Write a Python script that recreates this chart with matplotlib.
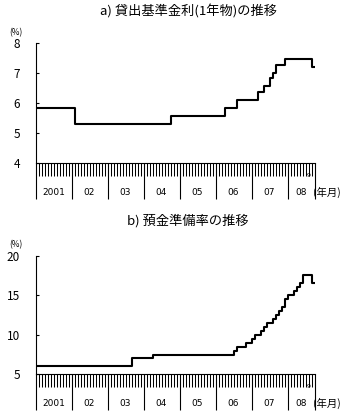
import matplotlib
matplotlib.use('Agg')
import matplotlib.pyplot as plt
import matplotlib.transforms as mtransforms
import numpy as np

plt.rcParams['font.family'] = ['Noto Sans CJK JP', 'DejaVu Sans']

# 改定月と水準
rate_months = ['2001-01', '2002-02', '2004-10', '2006-04', '2006-08', '2007-03',
               '2007-05', '2007-07', '2007-08', '2007-09', '2007-12', '2008-09']
rate_values = [5.85, 5.31, 5.58, 5.85, 6.12, 6.39, 6.57, 6.84, 7.02, 7.29, 7.47, 7.20]

rrr_months = ['2001-01', '2003-09', '2004-04', '2006-07', '2006-08', '2006-11',
              '2007-01', '2007-02', '2007-04', '2007-05', '2007-06', '2007-08',
              '2007-09', '2007-10', '2007-11', '2007-12', '2008-01', '2008-03',
              '2008-04', '2008-05', '2008-06', '2008-09']
rrr_values = [6.0, 7.0, 7.5, 8.0, 8.5, 9.0, 9.5, 10.0, 10.5, 11.0, 11.5, 12.0,
              12.5, 13.0, 13.5, 14.5, 15.0, 15.5, 16.0, 16.5, 17.5, 16.5]

year_labels = ['2001', '02', '03', '04', '05', '06', '07', '08']
last_month = '2008-09'


def month_index(s):
    y, m = s.split('-')
    return (int(y) - 2001) * 12 + int(m) - 1


n_months = month_index(last_month) + 1

W, H = 359, 419
fig = plt.figure(figsize=(W / 100, H / 100), dpi=100)


def panel(top_px, bottom_px, months, values, ylim, yticks, title, title_px):
    left = 35.5
    right = left + 3 * n_months
    ax = fig.add_axes([left / W, 1 - bottom_px / H, (right - left) / W, (bottom_px - top_px) / H])
    x = [month_index(m) for m in months] + [n_months]
    y = list(values) + [values[-1]]
    ax.step(x, y, where='post', color='black', lw=1.5)
    ax.set_xlim(0, n_months)
    ax.set_ylim(*ylim)
    ax.set_yticks(yticks)
    ax.tick_params(axis='y', direction='in', length=2.5, width=0.8, pad=11, labelsize=8.5)
    for s in ['top', 'right']:
        ax.spines[s].set_visible(False)
    ax.spines['left'].set_linewidth(0.8)
    ax.spines['bottom'].set_linewidth(0.8)
    # 月の目盛り
    ax.set_xticks(np.arange(0, n_months + 1, 12).tolist() + [n_months])
    ax.set_xticks(np.arange(0, n_months + 1), minor=True)
    ax.tick_params(axis='x', which='minor', direction='out', length=9.5, width=0.75)
    ax.tick_params(axis='x', which='major', direction='out', length=26, width=0.8, labelbottom=False)
    # 年ラベル
    trans = mtransforms.blended_transform_factory(ax.transData, fig.transFigure)
    for i, lab in enumerate(year_labels):
        cx = i * 12 + min(12, n_months - i * 12) / 2
        ax.text(cx, 1 - (bottom_px + 29) / H, lab, transform=trans, ha='center', va='center',
                fontsize=6.5, family='DejaVu Sans')
    fig.text(313 / W, 1 - (bottom_px + 29) / H, '(年月)', ha='left', va='center', fontsize=7.5)
    fig.text(309 / W, 1 - (bottom_px + 12) / H, '9', ha='center', va='center', fontsize=4.5,
             family='DejaVu Sans')
    fig.text(16 / W, 1 - (top_px - 11) / H, '(%)', ha='center', va='center', fontsize=6)
    fig.text(188 / W, 1 - title_px / H, title, ha='center', va='center', fontsize=9.5)
    return ax


panel(43.3, 163.3, rate_months, rate_values, (4, 8), [4, 5, 6, 7, 8],
      'a) 貸出基準金利(1年物)の推移', 11)
panel(255.7, 374.3, rrr_months, rrr_values, (5, 20), [5, 10, 15, 20],
      'b) 預金準備率の推移', 221)

fig.savefig('out.png', dpi=100)
